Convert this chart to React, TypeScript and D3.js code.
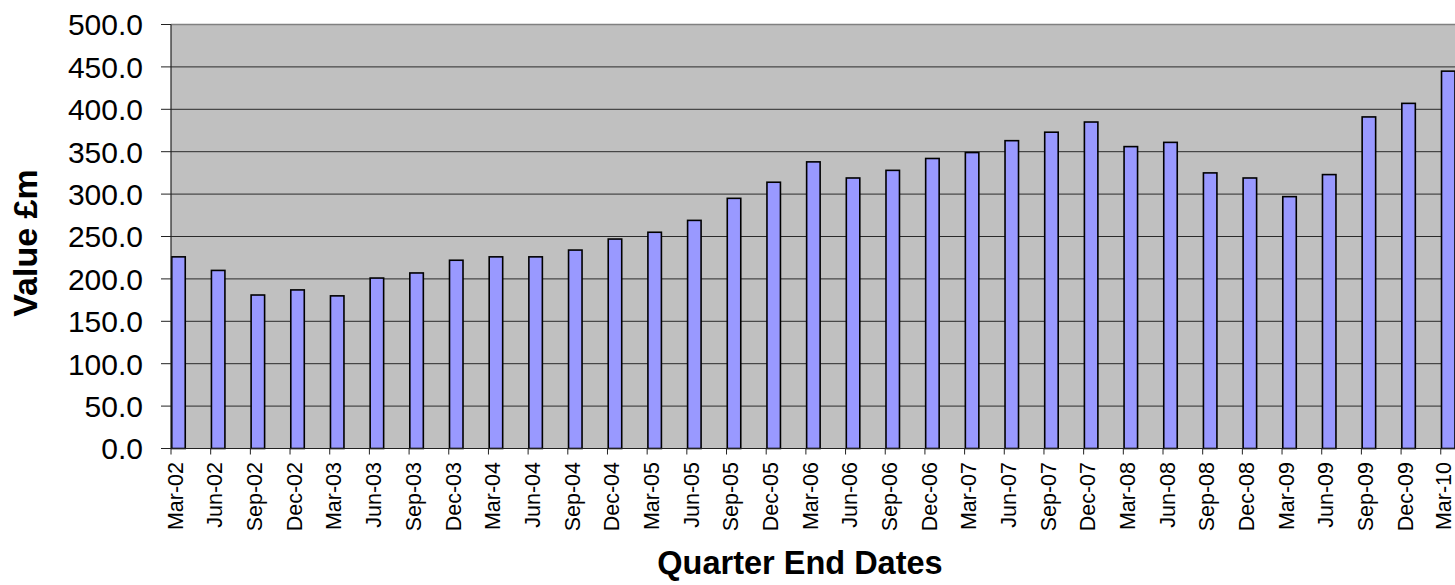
import React from 'react';
import * as d3 from 'd3';

// Quarter end dates
const quarters = [
  'Mar-02', 'Jun-02', 'Sep-02', 'Dec-02',
  'Mar-03', 'Jun-03', 'Sep-03', 'Dec-03',
  'Mar-04', 'Jun-04', 'Sep-04', 'Dec-04',
  'Mar-05', 'Jun-05', 'Sep-05', 'Dec-05',
  'Mar-06', 'Jun-06', 'Sep-06', 'Dec-06',
  'Mar-07', 'Jun-07', 'Sep-07', 'Dec-07',
  'Mar-08', 'Jun-08', 'Sep-08', 'Dec-08',
  'Mar-09', 'Jun-09', 'Sep-09', 'Dec-09',
  'Mar-10',
];

// Value £m per quarter
const values = [
  226, 210, 181, 187,
  180, 201, 207, 222,
  226, 226, 234, 247,
  255, 269, 295, 314,
  338, 319, 328, 342,
  349, 363, 373, 385,
  356, 361, 325, 319,
  297, 323, 391, 407,
  445,
];

const yTicks = [0, 50, 100, 150, 200, 250, 300, 350, 400, 450, 500];

const FONT = '"Liberation Sans", Arial, sans-serif';

const App = () => {
  const width = 1455;
  const height = 585;
  const margin = { top: 24.5, left: 171, bottom: 448.5 };
  const step = 39.68;
  const plotRight = margin.left + step * quarters.length;

  const x = d3.scaleBand<string>()
    .domain(quarters)
    .range([margin.left, plotRight])
    .paddingInner(0)
    .paddingOuter(0);

  const y = d3.scaleLinear()
    .domain([0, 500])
    .range([margin.bottom, margin.top]);

  const barWidth = x.bandwidth() * 0.34;

  return (
    <div style={{ position: 'absolute', left: 0, top: 0 }}>
      <svg width={width} height={height} style={{ display: 'block', background: '#fff' }}>
        {/* plot background */}
        <rect x={margin.left} y={margin.top} width={plotRight - margin.left}
          height={margin.bottom - margin.top} fill="#C0C0C0" />
        <line x1={margin.left} x2={plotRight} y1={margin.top} y2={margin.top}
          stroke="#808080" strokeWidth={1.5} />

        {/* gridlines + y ticks */}
        {yTicks.map(t => (
          <g key={t}>
            {t > 0 && t < 500 && (
              <line x1={margin.left} x2={plotRight} y1={y(t)} y2={y(t)}
                stroke="#2a2a2a" strokeWidth={1} />
            )}
            <line x1={161} x2={margin.left} y1={y(t)} y2={y(t)} stroke="#222" strokeWidth={1} />
            <text x={143} y={y(t)} dy="0.36em" textAnchor="end"
              fontFamily={FONT} fontSize={30} fill="#000">
              {t.toFixed(1)}
            </text>
          </g>
        ))}

        {/* bars */}
        {quarters.map((q, i) => (
          <rect key={q}
            x={(x(q) as number) + 0.75}
            y={y(values[i])}
            width={barWidth}
            height={y(0) - y(values[i])}
            fill="#9999FF"
            stroke="#000"
            strokeWidth={1.6} />
        ))}

        {/* axes lines */}
        <line x1={margin.left} x2={margin.left} y1={margin.top} y2={margin.bottom}
          stroke="#222" strokeWidth={1.2} />
        <line x1={margin.left} x2={plotRight} y1={margin.bottom} y2={margin.bottom}
          stroke="#222" strokeWidth={1.2} />

        {/* x ticks and labels */}
        {quarters.map(q => {
          const px = x(q) as number;
          // keep the last label inside the picture
          const lx = Math.min(px + 4, width - 12);
          return (
            <g key={q}>
              <line x1={px} x2={px} y1={margin.bottom} y2={margin.bottom + 6}
                stroke="#222" strokeWidth={1} />
              <text transform={`translate(${lx},462) rotate(-90)`}
                textAnchor="end" dy="0.36em"
                fontFamily={FONT} fontSize={21.5} fill="#000">
                {q}
              </text>
            </g>
          );
        })}

        {/* axis titles */}
        <text transform="translate(37,243) rotate(-90)" textAnchor="middle"
          fontFamily={FONT} fontSize={34} fontWeight="bold" fill="#000">
          Value £m
        </text>
        <text x={800} y={574} textAnchor="middle"
          fontFamily={FONT} fontSize={32.5} fontWeight="bold" fill="#000">
          Quarter End Dates
        </text>
      </svg>
    </div>
  );
};

export default App;
